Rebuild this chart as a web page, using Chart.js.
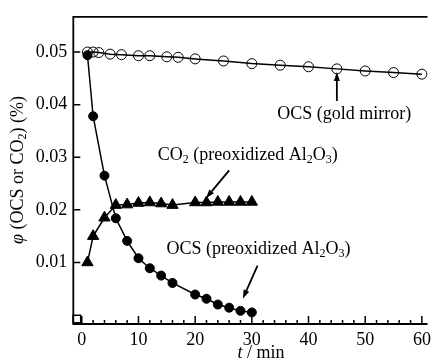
<!DOCTYPE html>
<html lang="en">
<head>
<meta charset="UTF-8">
<title>OCS decay</title>
<script src="https://cdn.jsdelivr.net/npm/chart.js"></script>
<style>
    body { margin: 0; padding: 0; background: #fff; }
    #chart-container { width: 436px; height: 364px; }
</style>
</head>
<body>
<div id="chart-container">
    <canvas id="myChart" width="436" height="364"></canvas>
</div>
<script>
// OCS over the gold mirror (open circles)
const goldTime = [1, 2, 3, 5, 7, 10, 12, 15, 17, 20, 25, 30, 35, 40, 45, 50, 55, 60];
const goldOcs = [0.0500, 0.0500, 0.0499, 0.0496, 0.0495, 0.0493, 0.0493, 0.0491, 0.0490, 0.0487,
                 0.0483, 0.0478, 0.0475, 0.0472, 0.0468, 0.0464, 0.0461, 0.0458];
// preoxidized Al2O3: OCS (filled circles) and CO2 (triangles)
const oxTime = [1, 2, 4, 6, 8, 10, 12, 14, 16, 20, 22, 24, 26, 28, 30];
const oxOcs = [0.0494, 0.0378, 0.0265, 0.0184, 0.0141, 0.0108, 0.0089, 0.0075, 0.0061, 0.0039,
               0.0031, 0.0020, 0.0014, 0.0008, 0.0005];
const oxCo2 = [0.0100, 0.0150, 0.0185, 0.0209, 0.0210, 0.0213, 0.0214, 0.0212, 0.0209, 0.0214,
               0.0214, 0.0215, 0.0215, 0.0215, 0.0215];
// tick labels
const xTicks = [0, 10, 20, 30, 40, 50, 60];
const yTicks = [0.01, 0.02, 0.03, 0.04, 0.05];

const serif = '"Liberation Serif", "Times New Roman", serif';
const ink = '#000';

const pts = (xs, ys) => xs.map((x, i) => ({ x: x, y: ys[i] }));

// annotation text and arrows, in data units
const notes = [
    { parts: [['OCS (gold mirror)']], x: 46.3, y: 0.0381, align: 'center' },
    { parts: [['CO'], ['2', 'sub'], [' (preoxidized Al'], ['2', 'sub'], ['O'], ['3', 'sub'], [')']], x: 13.4, y: 0.0304, align: 'left' },
    { parts: [['OCS (preoxidized Al'], ['2', 'sub'], ['O'], ['3', 'sub'], [')']], x: 14.96, y: 0.0126, align: 'left' }
];
const arrows = [
    { from: [45, 0.0407], to: [45, 0.0462] },
    { from: [26.0, 0.0275], to: [21.9, 0.0222] },
    { from: [31.0, 0.0094], to: [28.4, 0.0031] }
];

function fontFor(kind) {
    if (kind === 'sub') return '12px ' + serif;
    if (kind === 'it') return 'italic 18px ' + serif;
    return '18px ' + serif;
}

function richText(ctx, parts, x, y, align) {
    let total = 0;
    parts.forEach(p => { ctx.font = fontFor(p[1]); total += ctx.measureText(p[0]).width; });
    let cx = align === 'center' ? x - total / 2 : x;
    ctx.textBaseline = 'middle';
    ctx.textAlign = 'left';
    parts.forEach(p => {
        ctx.font = fontFor(p[1]);
        ctx.fillText(p[0], cx, p[1] === 'sub' ? y + 5 : y);
        cx += ctx.measureText(p[0]).width;
    });
}

function arrow(ctx, x1, y1, x2, y2) {
    const a = Math.atan2(y2 - y1, x2 - x1);
    const len = 9, half = 3;
    const bx = x2 - Math.cos(a) * len, by = y2 - Math.sin(a) * len;
    ctx.beginPath();
    ctx.moveTo(x1, y1);
    ctx.lineTo(bx, by);
    ctx.lineWidth = 1.8;
    ctx.stroke();
    ctx.beginPath();
    ctx.moveTo(x2, y2);
    ctx.lineTo(bx + Math.sin(a) * half, by - Math.cos(a) * half);
    ctx.lineTo(bx - Math.sin(a) * half, by + Math.cos(a) * half);
    ctx.closePath();
    ctx.fill();
}

const decorations = {
    id: 'decorations',
    afterDraw(chart) {
        const ctx = chart.ctx;
        const xs = chart.scales.x, ys = chart.scales.y;
        const area = chart.chartArea;
        ctx.save();
        ctx.strokeStyle = ink;
        ctx.fillStyle = ink;

        // frame: left, bottom, top (no right side)
        ctx.lineWidth = 1.8;
        ctx.beginPath();
        ctx.moveTo(area.right, area.top);
        ctx.lineTo(area.left, area.top);
        ctx.lineTo(area.left, area.bottom);
        ctx.lineTo(area.right, area.bottom);
        ctx.stroke();

        // inward ticks
        ctx.lineWidth = 1.5;
        ctx.beginPath();
        for (let v = 0; v <= 60; v += 2) {
            const px = xs.getPixelForValue(v);
            const len = v % 10 === 0 ? 8 : 4;
            ctx.moveTo(px, area.bottom);
            ctx.lineTo(px, area.bottom - len);
        }
        yTicks.forEach(v => {
            const py = ys.getPixelForValue(v);
            ctx.moveTo(area.left, py);
            ctx.lineTo(area.left + 7, py);
        });
        ctx.stroke();

        // axis titles
        richText(ctx, [['t', 'it'], [' / min']], 261, 353, 'center');
        ctx.save();
        ctx.translate(18, 170);
        ctx.rotate(-Math.PI / 2);
        richText(ctx, [['\u03c6', 'it'], [' (OCS or CO'], ['2', 'sub'], [') (%)']], 0, 0, 'center');
        ctx.restore();

        // labels and arrows
        notes.forEach(n => richText(ctx, n.parts, xs.getPixelForValue(n.x), ys.getPixelForValue(n.y), n.align));
        arrows.forEach(a => arrow(ctx,
            xs.getPixelForValue(a.from[0]), ys.getPixelForValue(a.from[1]),
            xs.getPixelForValue(a.to[0]), ys.getPixelForValue(a.to[1])));
        ctx.restore();
    }
};

const ctx = document.getElementById('myChart').getContext('2d');
const myChart = new Chart(ctx, {
    type: 'scatter',
    data: {
        datasets: [
            {
                label: 'OCS (gold mirror)',
                data: pts(goldTime, goldOcs),
                showLine: true,
                borderColor: ink,
                borderWidth: 1.5,
                pointStyle: 'circle',
                pointRadius: 5,
                pointBorderWidth: 1,
                pointBorderColor: ink,
                pointBackgroundColor: 'rgba(0,0,0,0)'
            },
            {
                label: 'CO2 (preoxidized Al2O3)',
                data: pts(oxTime, oxCo2),
                showLine: true,
                borderColor: ink,
                borderWidth: 1.5,
                pointStyle: 'triangle',
                pointRadius: 6.5,
                pointBorderWidth: 1,
                pointBorderColor: ink,
                pointBackgroundColor: ink
            },
            {
                label: 'OCS (preoxidized Al2O3)',
                data: pts(oxTime, oxOcs),
                showLine: true,
                borderColor: ink,
                borderWidth: 1.5,
                pointStyle: 'circle',
                pointRadius: 4.5,
                pointBorderWidth: 1,
                pointBorderColor: ink,
                pointBackgroundColor: ink
            },
            {
                label: 'origin',
                data: [{ x: -0.87, y: -0.00075 }],
                showLine: false,
                pointStyle: 'rect',
                pointRadius: 5.4,
                pointBorderWidth: 1.5,
                pointBorderColor: ink,
                pointBackgroundColor: 'rgba(0,0,0,0)',
                clip: false
            }
        ]
    },
    options: {
        responsive: false,
        animation: false,
        layout: { padding: { top: 12.7, right: 3, left: 0, bottom: 0 } },
        plugins: { legend: { display: false }, tooltip: { enabled: false } },
        scales: {
            x: {
                type: 'linear',
                min: -1.5,
                max: 61,
                grid: { display: false, drawTicks: false },
                border: { display: false },
                afterBuildTicks: scale => { scale.ticks = xTicks.map(v => ({ value: v })); },
                afterFit: scale => { scale.height = 40; },
                ticks: {
                    padding: 5,
                    color: ink,
                    maxRotation: 0,
                    font: { family: serif, size: 18 },
                    callback: v => String(v)
                }
            },
            y: {
                type: 'linear',
                min: -0.0017,
                max: 0.0567,
                grid: { display: false, drawTicks: false },
                border: { display: false },
                afterBuildTicks: scale => { scale.ticks = yTicks.map(v => ({ value: v })); },
                afterFit: scale => { scale.width = 73.3; },
                ticks: {
                    padding: 6,
                    color: ink,
                    font: { family: serif, size: 18 },
                    callback: v => v.toFixed(2)
                }
            }
        }
    },
    plugins: [decorations]
});
</script>
</body>
</html>
